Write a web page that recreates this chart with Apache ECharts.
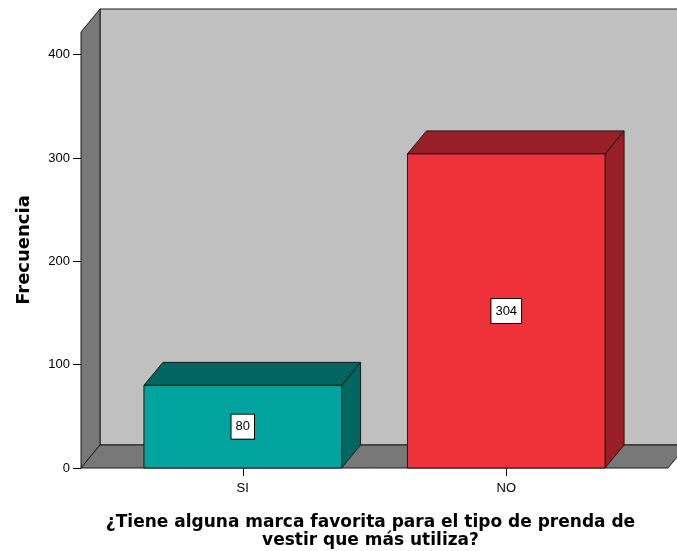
<!DOCTYPE html>
<html>
<head>
<meta charset="utf-8">
<script src="https://cdn.jsdelivr.net/npm/echarts@6/dist/echarts.min.js"></script>
<style>
  html, body { margin: 0; padding: 0; background: #ffffff; }
  #chart { width: 677px; height: 551px; }
</style>
</head>
<body>
<div id="chart"></div>
<script>
// Answers and their counts
const categories = ['SI', 'NO'];
const frequencies = [80, 304];
const yTickValues = [0, 100, 200, 300, 400];
const yMax = 422;
const xTitle = '¿Tiene alguna marca favorita para el tipo de prenda de\nvestir que más utiliza?';
const yTitle = 'Frecuencia';

// Box shading: front face and darker top/side faces
const palette = [
  { front: '#00a39e', shade: '#00665f' },
  { front: '#ef323a', shade: '#981f27' }
];

const DX = 19;     // depth offset to the right
const DY = -23;    // depth offset upwards
const SIDE = 30;   // floor/walls extend past the category bands by this much
const EDGE = { stroke: '#1a1a1a', lineWidth: 1 };
const TICK_FONT = 'Liberation Sans, Arial, sans-serif';
const TITLE_FONT = 'DejaVu Sans, Verdana, sans-serif';

// Back wall, left wall and floor of the 3D frame
function renderFrame(params, api) {
  const cs = params.coordSys;
  const left = cs.x - SIDE;
  const right = cs.x + cs.width + SIDE;
  const top = cs.y;
  const bottom = api.coord([0, 0])[1];
  return {
    type: 'group',
    children: [
      { type: 'polygon', shape: { points: [[left + DX, top + DY], [right + DX, top + DY], [right + DX, bottom + DY], [left + DX, bottom + DY]] },
        style: Object.assign({ fill: '#c0c0c0' }, EDGE) },
      { type: 'polygon', shape: { points: [[left, top], [left + DX, top + DY], [left + DX, bottom + DY], [left, bottom]] },
        style: Object.assign({ fill: '#787878' }, EDGE) },
      { type: 'polygon', shape: { points: [[left, bottom], [left + DX, bottom + DY], [right + DX, bottom + DY], [right, bottom]] },
        style: Object.assign({ fill: '#787878' }, EDGE) }
    ]
  };
}

// One 3D box per category, with its count in a boxed label
function renderBox(params, api) {
  const i = api.value(0);
  const v = api.value(1);
  const base = api.coord([i, 0]);
  const top = api.coord([i, v]);
  const w = api.size([1, 0])[0] * 0.75;
  const x0 = base[0] - w / 2, x1 = base[0] + w / 2;
  const y0 = base[1], y1 = top[1];
  const c = palette[i];
  return {
    type: 'group',
    children: [
      { type: 'polygon', shape: { points: [[x1, y0], [x1 + DX, y0 + DY], [x1 + DX, y1 + DY], [x1, y1]] },
        style: Object.assign({ fill: c.shade }, EDGE) },
      { type: 'polygon', shape: { points: [[x0, y1], [x0 + DX, y1 + DY], [x1 + DX, y1 + DY], [x1, y1]] },
        style: Object.assign({ fill: c.shade }, EDGE) },
      { type: 'rect', shape: { x: x0, y: y1, width: w, height: y0 - y1 },
        style: Object.assign({ fill: c.front }, EDGE) },
      { type: 'text', x: base[0], y: (y0 + y1) / 2,
        style: {
          text: String(v), align: 'center', verticalAlign: 'middle',
          fontFamily: TICK_FONT, fontSize: 13, fill: '#000',
          backgroundColor: '#ffffff', borderColor: '#000', borderWidth: 1, padding: [6, 4, 5, 4]
        } }
    ]
  };
}

const chart = echarts.init(document.getElementById('chart'), null, { renderer: 'canvas' });
chart.setOption({
  animation: false,
  backgroundColor: '#ffffff',
  grid: { left: 111, right: 39, top: 32, bottom: 83, containLabel: false, outerBoundsMode: 'none' },
  xAxis: {
    type: 'category',
    data: categories,
    axisLine: { show: false },
    axisTick: { show: true, alignWithLabel: true, length: 8, lineStyle: { color: '#000', width: 1 } },
    axisLabel: { color: '#000', fontSize: 13, margin: 14, fontFamily: TICK_FONT },
    name: xTitle,
    nameLocation: 'middle',
    nameGap: 46,
    nameTextStyle: { color: '#000', fontSize: 17, fontWeight: 'bold', fontFamily: TITLE_FONT, lineHeight: 18, padding: [0, 8, 0, 0] },
    z: 5
  },
  yAxis: {
    type: 'value',
    min: 0,
    max: yMax,
    offset: 30,
    axisLine: { show: false },
    splitLine: { show: false },
    axisTick: { show: true, length: 8, customValues: yTickValues, lineStyle: { color: '#000', width: 1 } },
    axisLabel: { color: '#000', fontSize: 13, margin: 11, customValues: yTickValues, fontFamily: TICK_FONT },
    name: yTitle,
    nameLocation: 'middle',
    nameGap: 48,
    nameTextStyle: { color: '#000', fontSize: 18, fontWeight: 'bold', fontFamily: TITLE_FONT }
  },
  series: [
    {
      type: 'custom',
      coordinateSystem: 'cartesian2d',
      renderItem: renderFrame,
      data: [[0, 0]],
      silent: true,
      z: 1
    },
    {
      type: 'custom',
      coordinateSystem: 'cartesian2d',
      renderItem: renderBox,
      data: frequencies.map((v, i) => [i, v]),
      encode: { x: 0, y: 1 },
      z: 2
    }
  ]
});
</script>
</body>
</html>
